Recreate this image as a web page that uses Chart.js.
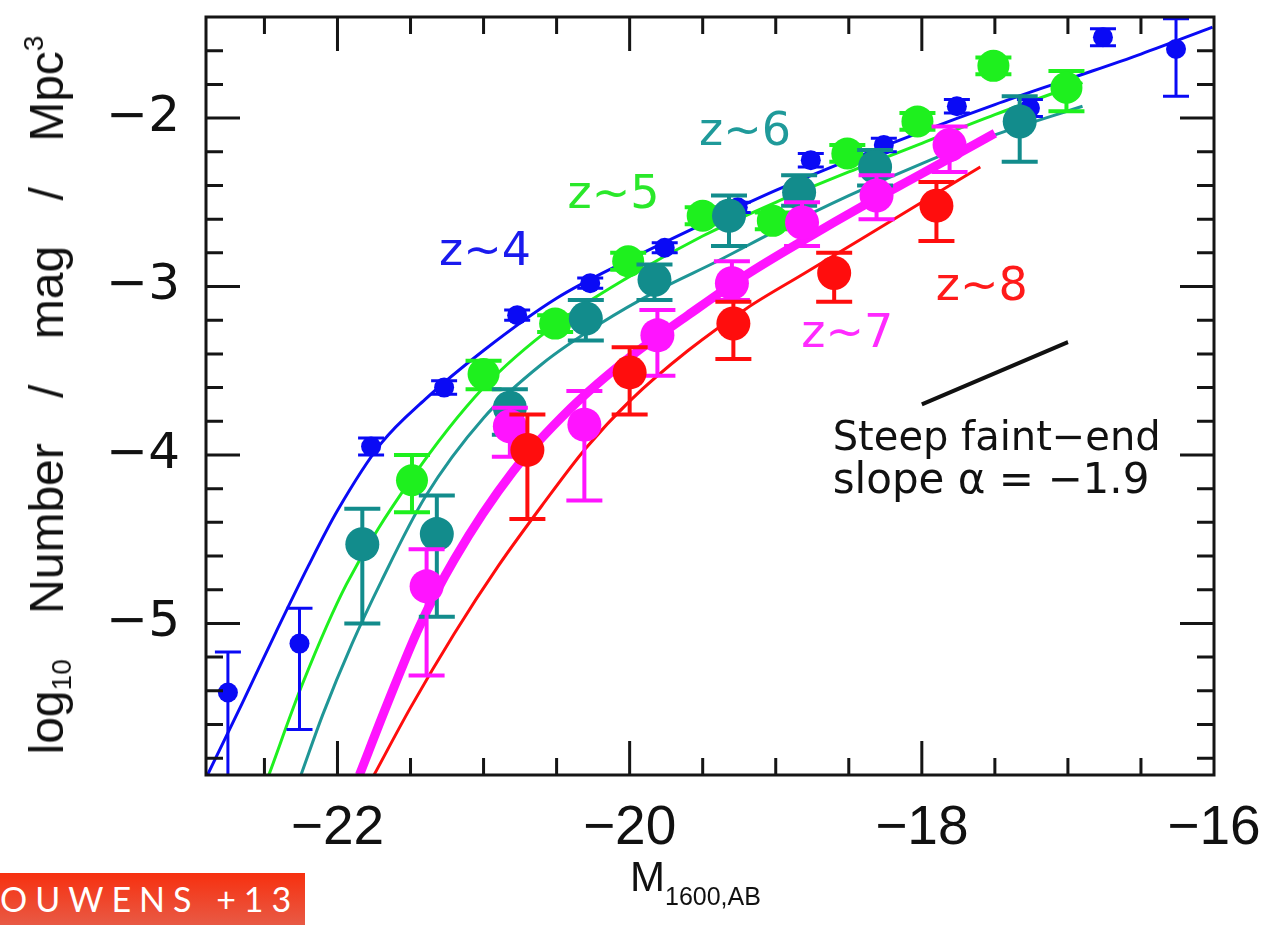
<!DOCTYPE html>
<html>
<head>
<meta charset="utf-8">
<script src="https://cdn.jsdelivr.net/npm/chart.js@4.4.1/dist/chart.umd.min.js"></script>
<style>
  html, body { margin: 0; padding: 0; background: #fff; }
  #lienzo { position: relative; width: 1271px; height: 925px; overflow: hidden; }
  #grafico { position: absolute; left: 0; top: 0; }
  .tituloY {
    position: absolute; left: 48px; top: 395px;
    transform: translate(-50%, -50%) rotate(-90deg);
    font-family: "Liberation Sans", Arial, sans-serif; font-size: 48px;
    white-space: nowrap; color: #111; word-spacing: 32px;
  }
  .tituloY sub { font-size: 28px; vertical-align: -8px; }
  .tituloY sup { font-size: 28px; vertical-align: 20px; }
  .tituloX {
    position: absolute; left: 630px; top: 853px;
    font-family: "Liberation Sans", Arial, sans-serif; font-size: 42px; color: #111;
    white-space: nowrap;
  }
  .tituloX sub { font-size: 25px; vertical-align: -14px; }
  .cita {
    position: absolute; left: 0; top: 873px; width: 305px; height: 52px;
    background: linear-gradient(#f7300f, #e85a45);
    overflow: hidden;
  }
  .cita span {
    position: absolute; left: -30px; top: 0;
    color: #fff; font-family: Lato, "Open Sans", sans-serif; font-size: 34px;
    letter-spacing: 8px; line-height: 52px; white-space: nowrap;
  }
</style>
</head>
<body>
<div id="lienzo">
  <canvas id="grafico" width="1271" height="925"></canvas>
  <div class="tituloY">log<sub>10</sub> Number / mag / Mpc<sup>3</sup></div>
  <div class="tituloX">M<sub>1600,AB</sub></div>
  <div class="cita"><span>BOUWENS +13</span></div>
</div>
<script>
// puntos con barras de error (z~4 ... z~8)
const z4X = [-22.75, -22.26, -21.77, -21.27, -20.77, -20.27, -19.76, -19.26, -18.76, -18.26, -17.76, -17.26, -16.76, -16.26]
const z4Y = [-5.41, -5.12, -3.95, -3.60, -3.17, -2.98, -2.77, -2.53, -2.25, -2.16, -1.93, -1.94, -1.52, -1.59]
const z4Arriba = [0.24, 0.21, 0.05, 0.04, 0.03, 0.03, 0.03, 0.03, 0.04, 0.04, 0.04, 0.05, 0.05, 0.18]
const z4Abajo = [0.80, 0.51, 0.05, 0.04, 0.03, 0.03, 0.03, 0.03, 0.04, 0.04, 0.04, 0.05, 0.05, 0.28]

const z5X = [-21.49, -21.00, -20.51, -20.01, -19.50, -19.02, -18.51, -18.03, -17.51, -17.01]
const z5Y = [-4.15, -3.52, -3.22, -2.85, -2.58, -2.61, -2.21, -2.02, -1.69, -1.82]
const z5Arriba = [0.15, 0.08, 0.05, 0.05, 0.05, 0.05, 0.05, 0.05, 0.05, 0.10]
const z5Abajo = [0.19, 0.09, 0.05, 0.05, 0.05, 0.05, 0.05, 0.05, 0.05, 0.14]

const z6X = [-21.83, -21.32, -20.82, -20.30, -19.83, -19.32, -18.84, -18.32, -17.33]
const z6Y = [-4.53, -4.47, -3.72, -3.19, -2.96, -2.58, -2.44, -2.29, -2.02]
const z6Arriba = [0.21, 0.23, 0.11, 0.11, 0.09, 0.12, 0.10, 0.10, 0.15]
const z6Abajo = [0.47, 0.49, 0.16, 0.13, 0.12, 0.18, 0.08, 0.11, 0.24]

const z7X = [-21.39, -20.82, -20.31, -19.81, -19.30, -18.82, -18.31, -17.81]
const z7Y = [-4.78, -3.83, -3.82, -3.29, -2.98, -2.62, -2.46, -2.16]
const z7Arriba = [0.22, 0.11, 0.20, 0.15, 0.13, 0.12, 0.12, 0.11]
const z7Abajo = [0.53, 0.18, 0.45, 0.24, 0.10, 0.14, 0.14, 0.16]

const z8X = [-20.70, -20.00, -19.29, -18.60, -17.90]
const z8Y = [-3.97, -3.51, -3.22, -2.92, -2.52]
const z8Arriba = [0.21, 0.15, 0.13, 0.12, 0.14]
const z8Abajo = [0.41, 0.25, 0.21, 0.17, 0.21]

// curvas de ajuste
const curva4X = [-22.89, -22.65, -22.42, -22.2, -22.0, -21.7, -21.4, -21.0, -20.5, -20.0, -19.5, -19.0, -18.5, -18.0, -17.5, -17.0, -16.5, -16.01]
const curva4Y = [-5.90, -5.47, -5.05, -4.66, -4.33, -3.93, -3.67, -3.38, -3.07, -2.84, -2.63, -2.43, -2.25, -2.08, -1.92, -1.77, -1.62, -1.46]
const curva5X = [-22.47, -22.24, -21.94, -21.5, -21.0, -20.5, -20.0, -19.5, -19.0, -18.5, -18.0, -17.5, -16.9]
const curva5Y = [-5.90, -5.36, -4.77, -4.15, -3.60, -3.22, -2.94, -2.70, -2.50, -2.32, -2.15, -1.98, -1.79]
const curva6X = [-22.25, -22.1, -21.9, -21.7, -21.4, -21.0, -20.6, -20.2, -19.8, -19.4, -19.0, -18.5, -18.0, -17.5, -16.9]
const curva6Y = [-5.90, -5.54, -5.12, -4.75, -4.25, -3.78, -3.46, -3.22, -3.02, -2.85, -2.67, -2.46, -2.27, -2.10, -1.93]
const curva7X = [-21.85, -21.66, -21.44, -21.2, -20.8, -20.4, -20.0, -19.6, -19.2, -18.8, -18.4, -18.0, -17.5]
const curva7Y = [-5.90, -5.48, -5.02, -4.62, -4.10, -3.72, -3.42, -3.17, -2.93, -2.72, -2.52, -2.33, -2.09]
const curva8X = [-21.75, -21.5, -21.2, -20.9, -20.6, -20.3, -20.0, -19.6, -19.2, -18.8, -18.4, -18.0, -17.6]
const curva8Y = [-5.90, -5.50, -5.06, -4.66, -4.30, -3.96, -3.68, -3.38, -3.13, -2.92, -2.71, -2.50, -2.29]

// segmento de pendiente alfa = -1.9
const pendienteX = [-18.0, -17.0]
const pendienteY = [-3.70, -3.33]

const ticksX = [-22, -20, -18, -16]
const ticksY = [-5, -4, -3, -2]

const azul = '#0a0af5'
const verde = '#1ef01e'
const cian = '#128c8c'
const magenta = '#ff14ff'
const rojo = '#ff0d0d'

const juntar = (xs, ys) => xs.map((v, i) => ({ x: v, y: ys[i] }))

function curva(xs, ys, color, grosor, orden) {
    return {
        showLine: true, data: juntar(xs, ys), borderColor: color, borderWidth: grosor,
        pointRadius: 0, pointHoverRadius: 0, cubicInterpolationMode: 'monotone', fill: false, order: orden
    }
}

function puntos(xs, ys, arriba, abajo, color, radio, tapa, grosorBarra, orden) {
    return {
        data: juntar(xs, ys), backgroundColor: color, borderColor: color,
        pointRadius: radio, pointHoverRadius: radio, pointBorderWidth: 0,
        errArriba: arriba, errAbajo: abajo, anchoTapa: tapa, grosorBarra: grosorBarra, order: orden
    }
}

const datasets = [
    puntos(z8X, z8Y, z8Arriba, z8Abajo, rojo, 17, 18, 4, 1),
    puntos(z7X, z7Y, z7Arriba, z7Abajo, magenta, 17, 18, 4, 2),
    puntos(z6X, z6Y, z6Arriba, z6Abajo, cian, 17, 18, 4, 3),
    puntos(z5X, z5Y, z5Arriba, z5Abajo, verde, 16, 18, 4, 4),
    puntos(z4X, z4Y, z4Arriba, z4Abajo, azul, 10, 13, 3, 5),
    curva(curva8X, curva8Y, rojo, 3, 6),
    curva(curva7X, curva7Y, magenta, 9, 7),
    curva(curva6X, curva6Y, '#1f9696', 3, 8),
    curva(curva5X, curva5Y, verde, 3, 9),
    curva(curva4X, curva4Y, azul, 3, 10),
    curva(pendienteX, pendienteY, '#111', 4, 6)
]

const textos = [
    { texto: 'z~4', x: -20.99, y: -2.80, color: '#1a1aee', alinear: 'center', tam: 46 },
    { texto: 'z~5', x: -20.11, y: -2.46, color: '#2ae82a', alinear: 'center', tam: 46 },
    { texto: 'z~6', x: -19.21, y: -2.09, color: '#1f9a9a', alinear: 'center', tam: 46 },
    { texto: 'z~7', x: -18.51, y: -3.29, color: '#ff2aff', alinear: 'center', tam: 46 },
    { texto: 'z~8', x: -17.59, y: -3.01, color: '#ff1a1a', alinear: 'center', tam: 46 },
    { texto: 'Steep faint\u2212end', x: -18.61, y: -3.91, color: '#111', alinear: 'left', tam: 40 },
    { texto: 'slope \u03b1 = \u22121.9', x: -18.61, y: -4.16, color: '#111', alinear: 'left', tam: 42 }
]

const barrasError = {
    id: 'barrasError',
    beforeDatasetDraw(chart, args) {
        const ds = chart.data.datasets[args.index]
        if (!ds.errAbajo) return
        const { ctx, chartArea: a, scales: { x, y } } = chart
        ctx.save()
        ctx.beginPath()
        ctx.rect(a.left, a.top, a.right - a.left, a.bottom - a.top)
        ctx.clip()
        ctx.strokeStyle = ds.backgroundColor
        ctx.lineWidth = ds.grosorBarra
        ds.data.forEach((p, i) => {
            const px = x.getPixelForValue(p.x)
            const y1 = y.getPixelForValue(p.y + ds.errArriba[i])
            const y2 = y.getPixelForValue(p.y - ds.errAbajo[i])
            const w = ds.anchoTapa
            ctx.beginPath()
            ctx.moveTo(px, y1); ctx.lineTo(px, y2)
            ctx.moveTo(px - w, y1); ctx.lineTo(px + w, y1)
            ctx.moveTo(px - w, y2); ctx.lineTo(px + w, y2)
            ctx.stroke()
        })
        ctx.restore()
    }
}

const marco = {
    id: 'marco',
    afterDatasetsDraw(chart) {
        const { ctx, chartArea: a, scales: { x, y } } = chart
        ctx.save()
        ctx.strokeStyle = '#151515'
        ctx.lineWidth = 3
        ctx.lineCap = 'butt'
        ctx.strokeRect(a.left, a.top, a.right - a.left, a.bottom - a.top)
        ctx.beginPath()
        // x: menores cada 0.5, mayores cada 2
        for (let i = -45; i <= -33; i++) {
            const px = x.getPixelForValue(i * 0.5)
            const largo = ticksX.includes(i * 0.5) ? 34 : 17
            ctx.moveTo(px, a.bottom); ctx.lineTo(px, a.bottom - largo)
            ctx.moveTo(px, a.top); ctx.lineTo(px, a.top + largo)
        }
        // y: menores cada 0.2, mayores cada 1
        for (let i = -29; i <= -8; i++) {
            const py = y.getPixelForValue(i * 0.2)
            const largo = (i % 5 === 0) ? 34 : 17
            ctx.moveTo(a.left, py); ctx.lineTo(a.left + largo, py)
            ctx.moveTo(a.right, py); ctx.lineTo(a.right - largo, py)
        }
        ctx.stroke()

        textos.forEach(t => {
            ctx.font = t.tam + 'px "DejaVu Sans", sans-serif'
            ctx.fillStyle = t.color
            ctx.textAlign = t.alinear
            ctx.textBaseline = 'middle'
            ctx.fillText(t.texto, x.getPixelForValue(t.x), y.getPixelForValue(t.y))
        })
        ctx.restore()
    }
}

const menos = v => '\u2212' + Math.abs(v)

const config = {
    type: 'scatter',
    data: { datasets },
    options: {
        responsive: false,
        animation: false,
        events: [],
        layout: { padding: { top: 12, right: 57, left: 0, bottom: 0 } },
        plugins: { legend: { display: false }, tooltip: { enabled: false } },
        scales: {
            x: {
                type: 'linear', min: -22.9, max: -16,
                grid: { display: false, drawTicks: false }, border: { display: false },
                ticks: {
                    stepSize: 2, includeBounds: false, autoSkip: false, maxRotation: 0,
                    padding: 21, color: '#111', callback: menos,
                    font: { family: '"Liberation Sans", Arial, sans-serif', size: 55 }
                },
                afterFit(s) { s.height = 150; s.paddingLeft = 0; s.paddingRight = 0 }
            },
            y: {
                type: 'linear', min: -5.9, max: -1.4,
                grid: { display: false, drawTicks: false }, border: { display: false },
                ticks: {
                    stepSize: 1, includeBounds: false, autoSkip: false,
                    padding: 26, color: '#111', callback: menos,
                    font: { family: '"DejaVu Sans", sans-serif', size: 50 }
                },
                afterFit(s) { s.width = 206; s.paddingTop = 0; s.paddingBottom = 0 }
            }
        }
    },
    plugins: [barrasError, marco]
}

new Chart(document.querySelector('#grafico'), config)
</script>
</body>
</html>
